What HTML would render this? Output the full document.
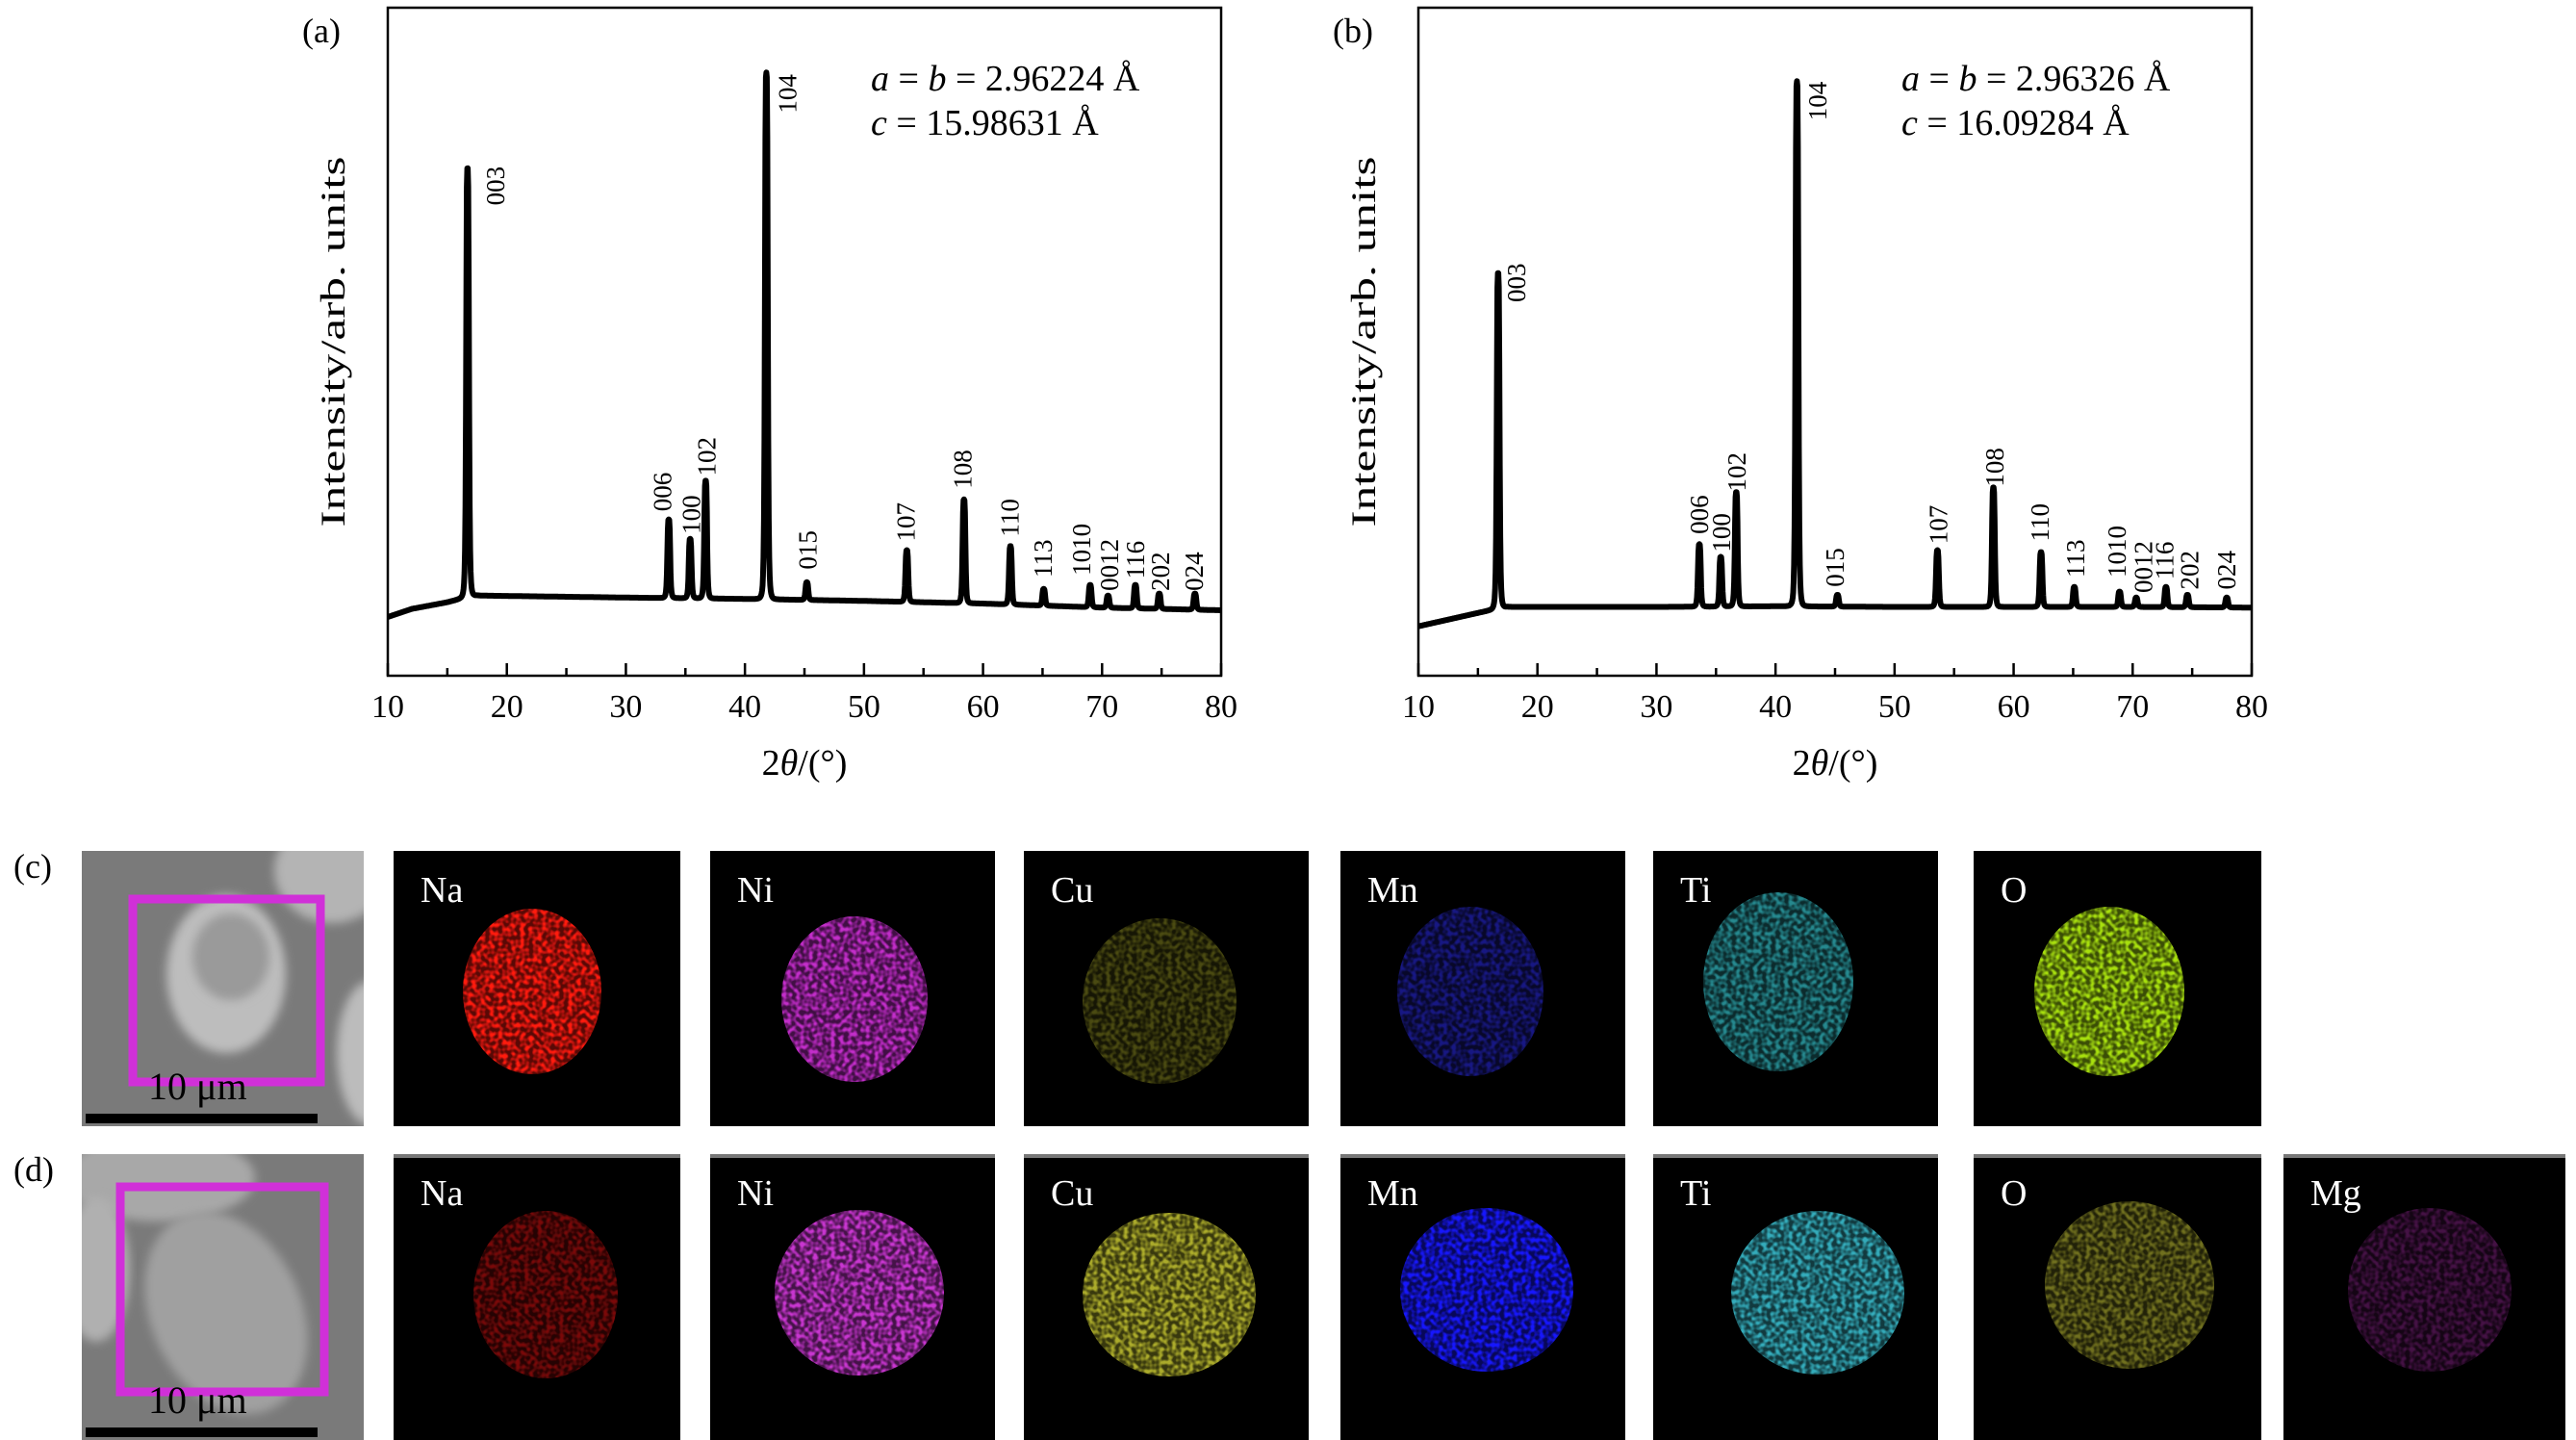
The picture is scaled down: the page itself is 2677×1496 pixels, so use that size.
<!DOCTYPE html>
<html><head><meta charset="utf-8">
<style>
html,body{margin:0;padding:0;background:#fff;}
svg{display:block;}
text{font-family:"Liberation Serif",serif;}
</style></head>
<body>
<svg id="fig" width="2677" height="1496" viewBox="0 0 2677 1496" xmlns="http://www.w3.org/2000/svg">
<defs>
<filter id="speckle" x="0" y="0" width="1" height="1">
<feTurbulence type="fractalNoise" baseFrequency="0.22" numOctaves="1" seed="3" result="n"/>
<feColorMatrix in="n" type="matrix" values="0 0 0 0 1 0 0 0 0 1 0 0 0 0 1 3.2 0 0 0 -1.2" result="m"/>
<feComposite in="SourceGraphic" in2="m" operator="in"/>
</filter>
<filter id="blur4"><feGaussianBlur stdDeviation="5"/></filter>
<clipPath id="semc"><rect x="85" y="884" width="293" height="286"/></clipPath>
<clipPath id="semd"><rect x="85" y="1199" width="293" height="297"/></clipPath>
</defs>
<g id="chartA"></g>
<g id="chartB"></g>
<g id="maps"></g>
</svg>
<script>
// ---------- Panel (a) data ----------
const baseXA = [10, 12, 15, 16.3, 17.5, 30, 40, 50, 60, 70, 80];
const baseVA = [8.8, 10.0, 11.0, 11.6, 12.0, 11.7, 11.5, 11.2, 10.8, 10.2, 9.8];
const hklLabels = ["003","006","100","102","104","015","107","108","110","113","1010","0012","116","202","024"];
const peakPosA = [16.7, 33.6, 35.4, 36.7, 41.8, 45.2, 53.6, 58.4, 62.3, 65.1, 69.0, 70.5, 72.8, 74.8, 77.8];
const peakHA = [76, 23.4, 20.5, 29.2, 90.3, 14, 18.8, 26.4, 19.4, 13.0, 13.6, 12.0, 13.6, 12.3, 12.3];
const labelXA = [19.04, 33.09, 35.51, 36.8, 43.59, 45.28, 53.52, 58.28, 62.24, 65.06, 68.29, 70.63, 72.81, 74.91, 77.74];
const labelVA = [70.4, 24.6, 21.2, 29.9, 84.2, 15.9, 20.1, 28.0, 20.8, 14.7, 15.0, 12.7, 14.5, 12.7, 12.7];
// ---------- Panel (b) data ----------
const baseXB = [10, 12, 15, 16.3, 17.5, 30, 40, 50, 60, 70, 80];
const baseVB = [7.4, 8.2, 9.4, 9.9, 10.3, 10.3, 10.4, 10.3, 10.3, 10.3, 10.2];
const peakPosB = [16.7, 33.6, 35.4, 36.7, 41.8, 45.2, 53.6, 58.3, 62.3, 65.1, 68.9, 70.3, 72.8, 74.6, 77.9];
const peakHB = [60.3, 19.7, 17.8, 27.5, 89.0, 12.1, 18.8, 28.2, 18.5, 13.3, 12.6, 11.7, 13.3, 12.1, 11.7];
const labelXB = [18.25, 33.6, 35.46, 36.76, 43.55, 45.0, 53.7, 58.4, 62.2, 65.2, 68.7, 70.9, 72.7, 74.8, 77.9];
const labelVB = [55.9, 21.2, 18.5, 27.6, 83.1, 13.3, 19.7, 28.3, 20.1, 14.7, 14.7, 12.4, 14.4, 12.9, 12.9];
const xTicks = [10, 20, 30, 40, 50, 60, 70, 80];
const xMinor = [15, 25, 35, 45, 55, 65, 75];

const NS = "http://www.w3.org/2000/svg";
function mk(tag, attrs, parent, txt){
  const e = document.createElementNS(NS, tag);
  for (const k in attrs) e.setAttribute(k, attrs[k]);
  if (txt !== undefined) e.textContent = txt;
  parent.appendChild(e);
  return e;
}
function interp(xs, vs, x){
  if (x <= xs[0]) return vs[0];
  for (let i = 1; i < xs.length; i++) if (x <= xs[i]) { const t = (x - xs[i-1])/(xs[i]-xs[i-1]); return vs[i-1] + t*(vs[i]-vs[i-1]); }
  return vs[vs.length-1];
}
function drawChart(g, L, R, T, B, baseX, baseV, pPos, pH, lX, lV, tag, params){
  const xs = d => L + (d - 10) / 70 * (R - L);
  const ys = v => B - v / 100 * (B - T);
  const fr = mk("rect", {x:L, y:T, width:R-L, height:B-T, fill:"none", stroke:"#000", "stroke-width":2.5}, g);
  
  
  xTicks.forEach(t => {
    const l = mk("line", {x1:xs(t), x2:xs(t), y1:B, y2:B-13, stroke:"#000", "stroke-width":2.5}, g);
    
    
    const tx = mk("text", {x:xs(t), y:B+43, "font-size":34, "text-anchor":"middle"}, g, String(t));
    
    
  });
  xMinor.forEach(t => {
    const l = mk("line", {x1:xs(t), x2:xs(t), y1:B, y2:B-8, stroke:"#000", "stroke-width":2.5}, g);
    
    
  });
  let d = "";
  for (let x = 10; x <= 80.0001; x += 0.04) {
    let v = interp(baseX, baseV, x);
    for (let i = 0; i < pPos.length; i++) {
      const w = 0.13;
      const b = interp(baseX, baseV, pPos[i]);
      const dx = (x - pPos[i]) / w;
      v += (pH[i] - b) / (1 + dx*dx*dx*dx);
    }
    d += (d ? "L" : "M") + xs(x).toFixed(1) + "," + ys(v).toFixed(1);
  }
  const p = mk("path", {d:d, fill:"none", stroke:"#000", "stroke-width":6, "stroke-linejoin":"round"}, g);
  
  
  hklLabels.forEach((h, i) => {
    const x = xs(lX[i]) + 9, y = ys(lV[i]);
    const t = mk("text", {x:x, y:y, "font-size":27, transform:`rotate(-90 ${x} ${y})`}, g, h);
    
    
  });
  const xt = mk("text", {x:(L+R)/2, y:B+103, "font-size":38, "text-anchor":"middle"}, g);
  xt.innerHTML = '2<tspan font-style="italic">θ</tspan>/(°)';
  
  
  const yx = L - 45, yy = 355;
  const yt = mk("text", {x:yx, y:yy, "font-size":36, "text-anchor":"middle", textLength:385, lengthAdjust:"spacingAndGlyphs", transform:`rotate(-90 ${yx} ${yy})`}, g, "Intensity/arb. units");
  
  
  const pt = mk("text", {x:L-89, y:44, "font-size":36}, g, tag);
  
  
  const a1 = mk("text", {x:L+502, y:94, "font-size":38}, g);
  a1.innerHTML = '<tspan font-style="italic">a</tspan> = <tspan font-style="italic">b</tspan> = ' + params[0] + ' Å';
  
  
  const a2 = mk("text", {x:L+502, y:140, "font-size":38}, g);
  a2.innerHTML = '<tspan font-style="italic">c</tspan> = ' + params[1] + ' Å';
  
  
}
drawChart(document.getElementById("chartA"), 403, 1269, 8, 702, baseXA, baseVA, peakPosA, peakHA, labelXA, labelVA, "(a)", ["2.96224","15.98631"]);
drawChart(document.getElementById("chartB"), 1474, 2340, 8, 702, baseXB, baseVB, peakPosB, peakHB, labelXB, labelVB, "(b)", ["2.96326","16.09284"]);

// ---------- EDS maps ----------
const mg = document.getElementById("maps");
const rowTop = [884, 1199];
const rowBot = [1170, 1496];
const colX = [409, 738, 1064, 1393, 1718, 2051, 2373];
const colW = [298, 296, 296, 296, 296, 299, 293];
const elems = ["Na","Ni","Cu","Mn","Ti","O","Mg"];
const blobs = [
  [[553,1030,72,86,"#ff1a10",1.0],[888,1038,76,86,"#d030d8",0.9],[1205,1040,80,86,"#8a8a20",0.45],[1528,1030,76,88,"#2424c0",0.6],[1848,1020,78,93,"#30b0b8",0.7],[2192,1030,78,88,"#a8e010",1.0],null],
  [[567,1345,75,87,"#c01010",0.55],[893,1343,88,86,"#d038d8",0.95],[1215,1345,90,85,"#c0c030",0.85],[1545,1340,90,85,"#1818ff",1.0],[1889,1343,90,85,"#38b8c8",0.9],[2213,1335,88,87,"#b0b030",0.55],[2525,1340,85,85,"#802080",0.45]]
];
for (let r = 0; r < 2; r++) {
  const t = rowTop[r], b = rowBot[r];
  const sg = mk("g", {"clip-path": r ? "url(#semd)" : "url(#semc)"}, mg);
  
  
  mk("rect", {x:85, y:t, width:293, height:b-t, fill:"#7a7a7a"}, sg);
  if (r === 0) {
    mk("ellipse", {cx:345, cy:t+20, rx:60, ry:55, fill:"#b4b4b4", filter:"url(#blur4)"}, sg);
    mk("ellipse", {cx:385, cy:t+210, rx:35, ry:75, fill:"#bcbcbc", filter:"url(#blur4)"}, sg);
    mk("ellipse", {cx:235, cy:t+128, rx:62, ry:82, fill:"#bdbdbd", filter:"url(#blur4)"}, sg);
    mk("ellipse", {cx:240, cy:t+110, rx:40, ry:45, fill:"#9a9a9a", filter:"url(#blur4)"}, sg);
  } else {
    mk("ellipse", {cx:165, cy:t+25, rx:100, ry:45, fill:"#a8a8a8", filter:"url(#blur4)"}, sg);
    mk("ellipse", {cx:100, cy:t+120, rx:35, ry:75, fill:"#b0b0b0", filter:"url(#blur4)"}, sg);
    mk("ellipse", {cx:235, cy:t+165, rx:78, ry:110, fill:"#a0a0a0", transform:`rotate(-25 235 ${t+165})`, filter:"url(#blur4)"}, sg);
  }
  const box = r === 0 ? [138,934,195,190] : [125,1233,212,213];
  const mb = mk("rect", {x:box[0], y:box[1], width:box[2], height:box[3], fill:"none", stroke:"#d030d8", "stroke-width":9}, sg);
  
  
  const sb = mk("rect", {x:89, y:b-13, width:241, height:10, fill:"#000"}, sg);
  
  
  const st = mk("text", {x:154, y:b-28, "font-size":40}, sg, "10 μm");
  
  
  const tg = mk("text", {x:14, y:t+28, "font-size":36}, mg, r ? "(d)" : "(c)");
  
  
  for (let c = 0; c < 7; c++) {
    const bl = blobs[r][c];
    if (!bl) continue;
    const pg = mk("g", {}, mg);
    
    
    mk("rect", {x:colX[c], y:t, width:colW[c], height:b-t, fill:"#000"}, pg);
    if (r === 1) mk("rect", {x:colX[c], y:t, width:colW[c], height:4, fill:"#777"}, pg);
    mk("ellipse", {cx:bl[0], cy:bl[1], rx:bl[2], ry:bl[3], fill:bl[4], opacity:bl[5]*0.35}, pg);
    mk("ellipse", {cx:bl[0], cy:bl[1], rx:bl[2], ry:bl[3], fill:bl[4], opacity:bl[5], filter:"url(#speckle)"}, pg);
    const lt = mk("text", {x:colX[c]+28, y:t+53, "font-size":38, fill:"#fff"}, pg, elems[c]);
    
    
  }
}
</script>
</body></html>
